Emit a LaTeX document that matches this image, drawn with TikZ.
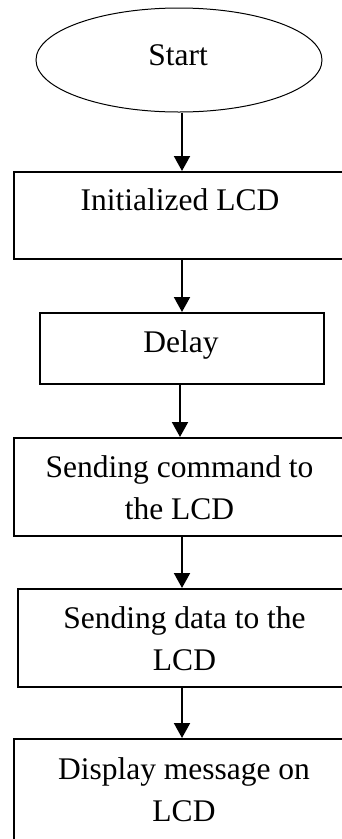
\documentclass[tikz,border=0pt]{standalone}
\usepackage{fontspec}
\setmainfont{Liberation Serif}
\usetikzlibrary{arrows.meta,shapes.geometric}
\begin{document}
\begin{tikzpicture}[x=1pt,y=-1pt,
  stepbox/.style={draw,line width=1.5pt,rectangle,anchor=north west,inner sep=0pt},
  lbl/.style={font=\fontsize{31.5}{42}\selectfont,align=center,anchor=base,inner sep=0pt},
  arr/.style={line width=2pt,-{Triangle[length=15pt,width=16pt]}}]
\useasboundingbox (0,0) rectangle (342,839);
\clip (0,0) rectangle (342,839);
% flow boxes
\node[draw,ellipse,line width=1pt,minimum width=286pt,minimum height=104pt,inner sep=0pt] (start) at (179,60) {};
\node[stepbox,minimum width=338pt,minimum height=87pt] (init) at (13,171) {};
\node[stepbox,minimum width=284pt,minimum height=71pt] (delay) at (39,312) {};
\node[stepbox,minimum width=338pt,minimum height=98pt] (cmd) at (13,437) {};
\node[stepbox,minimum width=338pt,minimum height=98pt] (data) at (17,588) {};
\node[stepbox,minimum width=338pt,minimum height=130pt] (disp) at (13,738) {};
% texts (multi-line labels are placed by the baseline of their last line)
\node[lbl] (startlbl) at (178,65) {Start};
\node[lbl] (initlbl) at (180,210.7) {Initialized LCD};
\node[lbl] (delaylbl) at (181,352.7) {Delay};
\node[lbl] (cmdlbl) at (179.5,519) {Sending command to\\the LCD};
\node[lbl] (datalbl) at (184.5,670) {Sending data to the\\LCD};
\node[lbl] (displbl) at (184,821.7) {Display message on\\LCD};
% connectors
\coordinate (ax) at (182,0);
\coordinate (bx) at (180,0);
\draw[arr] (start.south -| ax) -- (init.north -| ax);
\draw[arr] (init.south -| ax) -- (delay.north -| ax);
\draw[arr] (delay.south -| bx) -- (cmd.north -| bx);
\draw[arr] (cmd.south -| ax) -- (data.north -| ax);
\draw[arr] (data.south -| ax) -- (disp.north -| ax);
\end{tikzpicture}
\end{document}
